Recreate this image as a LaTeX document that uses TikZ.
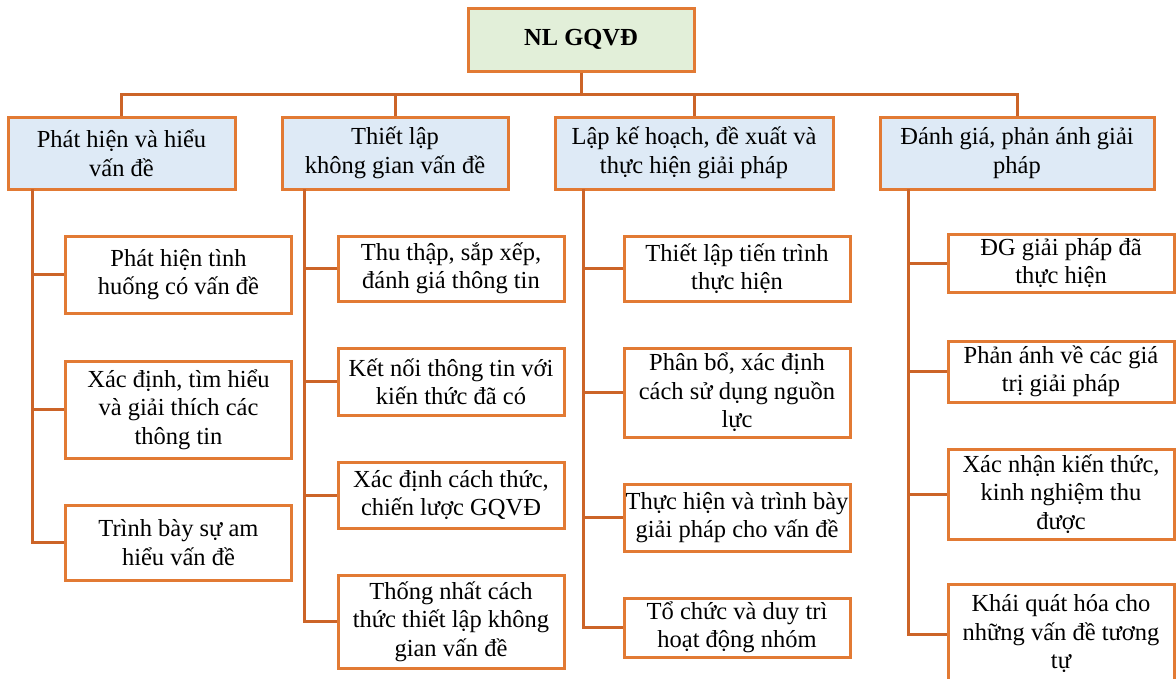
\documentclass[tikz,border=0pt]{standalone}
\usepackage{fontspec}
\setmainfont{Liberation Serif}
\definecolor{cam}{RGB}{226,122,52}
\definecolor{camdam}{RGB}{204,100,40}
\definecolor{xanhnhat}{RGB}{222,234,246}
\definecolor{lanhat}{RGB}{226,239,217}
\begin{document}
\begin{tikzpicture}[x=1pt, y=-1pt,
    every node/.style={font=\fontsize{24.5}{28.5}\selectfont, align=center, inner sep=1pt},
    goc/.style={draw=cam, line width=3pt, fill=lanhat, minimum width=226, minimum height=63},
    nhanh/.style={draw=cam, line width=3pt, fill=xanhnhat, minimum height=72},
    muc/.style={draw=cam, line width=3pt, fill=white, minimum width=226},
    noi/.style={draw=camdam, line width=3pt}
]
\useasboundingbox (0,0) rectangle (1176,678);
% Goc
\node[goc] (goc) at (581,39.5) {\bfseries NL GQVĐ};
% Nhanh cap 1
\node[nhanh, minimum width=227] (phathien) at (121.5,153) {Phát hiện và hiểu\\vấn đề};
\node[nhanh, minimum width=226] (thietlap) at (395,153) {Thiết lập\\không gian vấn đề};
\node[nhanh, minimum width=278] (lapkh) at (694,153) {Lập kế hoạch, đề xuất và\\thực hiện giải pháp};
\node[nhanh, minimum width=274] (danhgia) at (1017,153) {Đánh giá, phản ánh giải\\pháp};
% Cot A
\node[muc, minimum height=77] (A1) at (178.5,274.5) {Phát hiện tình\\huống có vấn đề};
\node[muc, minimum height=97] (A2) at (178.5,409.5) {Xác định, tìm hiểu\\và giải thích các\\thông tin};
\node[muc, minimum height=75] (A3) at (178.5,542.5) {Trình bày sự am\\hiểu vấn đề};
% Cot B
\node[muc, minimum height=65] (B1) at (451,268.5) {Thu thập, sắp xếp,\\đánh giá thông tin};
\node[muc, minimum height=67] (B2) at (451,381.5) {Kết nối thông tin với\\kiến thức đã có};
\node[muc, minimum height=66] (B3) at (451,495) {Xác định cách thức,\\chiến lược GQVĐ};
\node[muc, minimum height=93] (B4) at (451,621.5) {Thống nhất cách\\thức thiết lập không\\gian vấn đề};
% Cot C
\node[muc, minimum height=65] (C1) at (737,268.5) {Thiết lập tiến trình\\thực hiện};
\node[muc, minimum height=89] (C2) at (737,392.5) {Phân bổ, xác định\\cách sử dụng nguồn\\lực};
\node[muc, minimum height=67] (C3) at (737,517.5) {Thực hiện và trình bày\\giải pháp cho vấn đề};
\node[muc, minimum height=59] (C4) at (737,627.5) {Tổ chức và duy trì\\hoạt động nhóm};
% Cot D
\node[muc, minimum height=58] (D1) at (1061,263) {ĐG giải pháp đã\\thực hiện};
\node[muc, minimum height=61] (D2) at (1061,371.5) {Phản ánh về các giá\\trị giải pháp};
\node[muc, minimum height=90] (D3) at (1061,494) {Xác nhận kiến thức,\\kinh nghiệm thu\\được};
\node[muc, minimum height=100] (D4) at (1061,634) {Khái quát hóa cho\\những vấn đề tương\\tự};
% Duong noi
\coordinate (bus) at (581,94);
\draw[noi] (goc.south) -- (bus);
\foreach \n in {phathien,thietlap,lapkh,danhgia}
  \draw[noi] (bus) -| (\n.north);
\coordinate (tA) at (32,189);
\coordinate (tB) at (304,189);
\coordinate (tC) at (583,189);
\coordinate (tD) at (908,189);
\foreach \k in {A1,A2,A3} \draw[noi] (tA) |- (\k.west);
\foreach \k in {B1,B2,B3,B4} \draw[noi] (tB) |- (\k.west);
\foreach \k in {C1,C2,C3,C4} \draw[noi] (tC) |- (\k.west);
\foreach \k in {D1,D2,D3,D4} \draw[noi] (tD) |- (\k.west);
\end{tikzpicture}
\end{document}
